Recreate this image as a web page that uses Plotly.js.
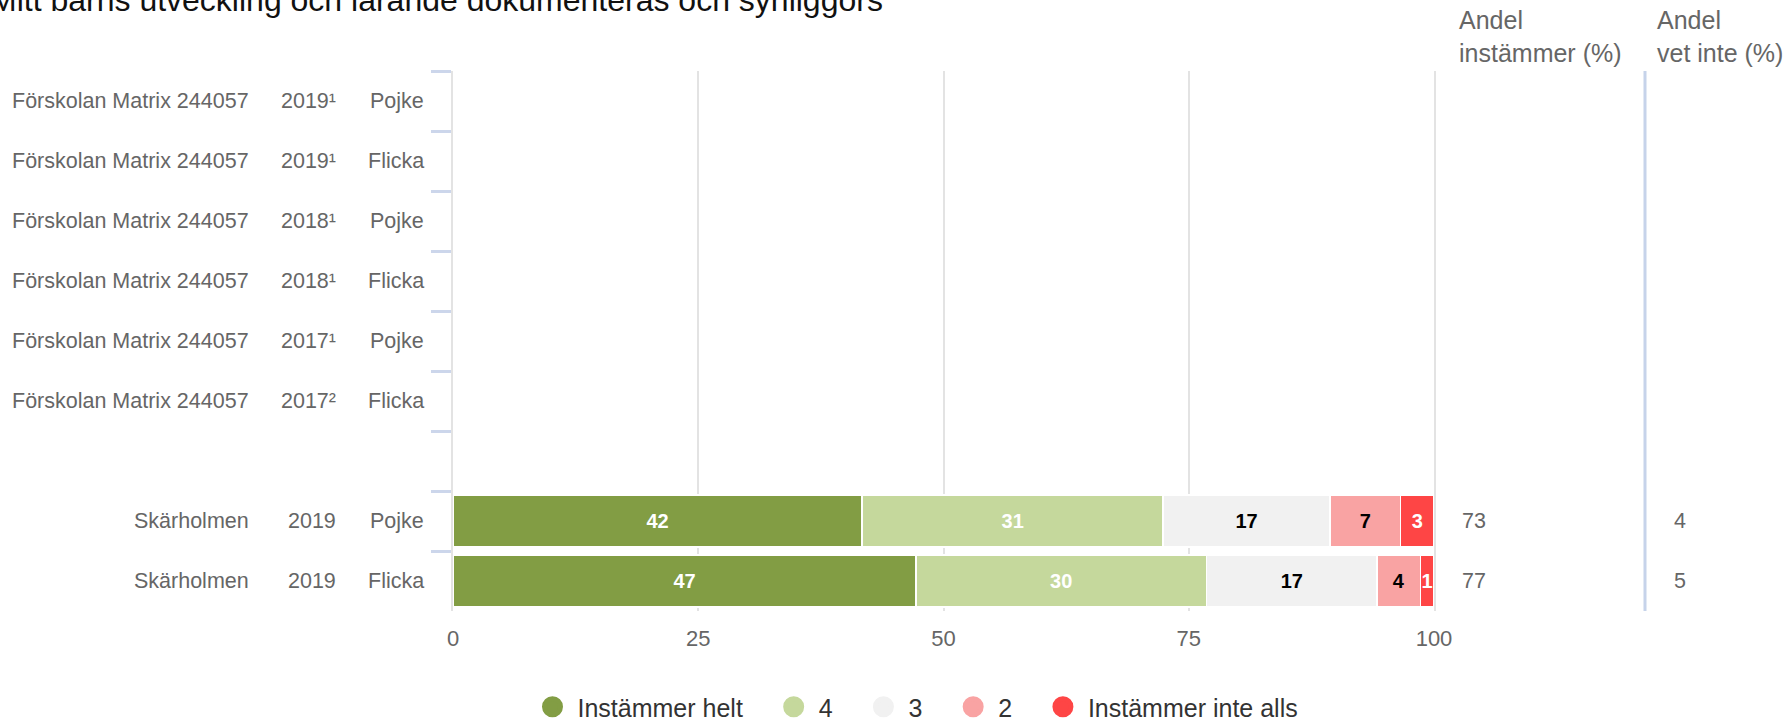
<!DOCTYPE html>
<html>
<head>
<meta charset="utf-8">
<script src="https://cdn.plot.ly/plotly-3.0.1.min.js"></script>
<style>
  html, body { margin: 0; padding: 0; background: #fff; }
  #myDiv { width: 1785px; height: 720px; }
</style>
</head>
<body>
<div id="myDiv"></div>
<script>
// rows, top to bottom (row 7 is an empty spacer)
var schools = ['Förskolan Matrix 244057', 'Förskolan Matrix 244057', 'Förskolan Matrix 244057',
               'Förskolan Matrix 244057', 'Förskolan Matrix 244057', 'Förskolan Matrix 244057',
               '', 'Skärholmen', 'Skärholmen'];
var years = ['2019¹', '2019¹', '2018¹', '2018¹', '2017¹', '2017²', '', '2019', '2019'];
var genders = ['Pojke', 'Flicka', 'Pojke', 'Flicka', 'Pojke', 'Flicka', '', 'Pojke', 'Flicka'];

// answer shares (%); null = no data
var helt     = [null, null, null, null, null, null, null, 41.7, 47.2];
var fyra     = [null, null, null, null, null, null, null, 30.7, 29.6];
var tre      = [null, null, null, null, null, null, null, 17.0, 17.4];
var tva      = [null, null, null, null, null, null, null, 7.2, 4.4];
var inteAlls = [null, null, null, null, null, null, null, 3.4, 1.4];

var andelInstammer = [null, null, null, null, null, null, null, 73, 77];
var andelVetInte   = [null, null, null, null, null, null, null, 4, 5];

var seriesNames = ['Instämmer helt', '4', '3', '2', 'Instämmer inte alls'];
var seriesColors = ['#829d44', '#c5d89c', '#f1f1f1', '#f9a3a3', '#fe4545'];
var labelColors = ['#ffffff', '#ffffff', '#000000', '#000000', '#ffffff'];
var xTicks = [0, 25, 50, 75, 100];

var FONT = 'Liberation Sans, Arial, sans-serif';

// unique category keys for the y axis
var cats = [];
for (var i = 0; i < schools.length; i++) {
  cats.push(i + '|' + schools[i] + '|' + years[i] + '|' + genders[i]);
}

// plot area in pixels
var L = 453, R = 1434, T = 71, B = 611;
function px(x) { return (x - L) / (R - L); }
function py(y) { return (B - y) / (B - T); }

var data = [];
var series = [helt, fyra, tre, tva, inteAlls];
for (var s = 0; s < series.length; s++) {
  data.push({
    type: 'bar',
    orientation: 'h',
    x: series[s],
    y: cats,
    name: seriesNames[s],
    showlegend: false,
    width: 0.87,
    marker: { color: seriesColors[s], line: { color: '#ffffff', width: 1.5 } },
    texttemplate: '%{x:.0f}',
    textposition: 'inside',
    insidetextanchor: 'middle',
    constraintext: 'none',
    textangle: 0,
    textfont: { family: FONT, size: 20, color: labelColors[s], weight: 'bold' },
    hoverinfo: 'x+name'
  });
}
// legend entries as circles (a little trailing space between entries)
var pad = '\u00a0\u00a0\u00a0';
for (var s = 0; s < seriesNames.length; s++) {
  data.push({
    type: 'scatter',
    mode: 'markers',
    x: [null],
    y: [null],
    name: seriesNames[s] + pad,
    marker: { color: seriesColors[s], size: 24, symbol: 'circle',
              line: { color: seriesColors[s], width: 5 } },
    hoverinfo: 'skip'
  });
}

var annotations = [];
// title (cut at the top left like the original)
annotations.push({
  xref: 'paper', yref: 'paper', x: px(-12), y: py(0),
  xanchor: 'left', yanchor: 'middle', showarrow: false,
  text: 'Mitt barns utveckling och lärande dokumenteras och synliggörs',
  font: { family: FONT, size: 32, color: '#111' }
});
// row labels
for (var i = 0; i < cats.length; i++) {
  var f = { family: FONT, size: 21.5, color: '#666' };
  annotations.push({ xref: 'paper', yref: 'y', x: px(251), y: cats[i], xanchor: 'right',
    showarrow: false, text: schools[i], font: f });
  annotations.push({ xref: 'paper', yref: 'y', x: px(338), y: cats[i], xanchor: 'right',
    showarrow: false, text: years[i], font: f });
  annotations.push({ xref: 'paper', yref: 'y', x: px(426), y: cats[i], xanchor: 'right',
    showarrow: false, text: genders[i], font: f });
  if (andelInstammer[i] != null) {
    annotations.push({ xref: 'paper', yref: 'y', x: px(1460), y: cats[i], xanchor: 'left',
      showarrow: false, text: String(andelInstammer[i]), font: f });
  }
  if (andelVetInte[i] != null) {
    annotations.push({ xref: 'paper', yref: 'y', x: px(1672), y: cats[i], xanchor: 'left',
      showarrow: false, text: String(andelVetInte[i]), font: f });
  }
}
// column headers
annotations.push({ xref: 'paper', yref: 'paper', x: px(1457), y: py(4), xanchor: 'left', yanchor: 'top',
  align: 'left', showarrow: false, text: 'Andel<br>instämmer (%)', font: { family: FONT, size: 25, color: '#666' } });
annotations.push({ xref: 'paper', yref: 'paper', x: px(1655), y: py(4), xanchor: 'left', yanchor: 'top',
  align: 'left', showarrow: false, text: 'Andel<br>vet inte (%)', font: { family: FONT, size: 25, color: '#666' } });

var layout = {
  width: 1785,
  height: 720,
  margin: { l: L, r: 1785 - R, t: T, b: 720 - B, autoexpand: false },
  paper_bgcolor: '#fff',
  plot_bgcolor: '#fff',
  barmode: 'stack',
  bargap: 0.13,
  font: { family: FONT, color: '#666' },
  showlegend: true,
  legend: {
    orientation: 'h', traceorder: 'normal',
    x: px(926), y: py(707), xanchor: 'center', yanchor: 'middle',
    font: { family: FONT, size: 25, color: '#333' }, itemwidth: 40
  },
  xaxis: {
    range: [0, 100],
    tickmode: 'array',
    tickvals: xTicks,
    ticktext: xTicks.map(String),
    showgrid: true,
    gridcolor: '#e3e3e3',
    gridwidth: 2,
    zeroline: false,
    showline: false,
    ticks: '',
    tickfont: { family: FONT, size: 22, color: '#666' },
    ticklabelstandoff: 12,
    fixedrange: true
  },
  yaxis: {
    type: 'category',
    categoryorder: 'array',
    categoryarray: cats,
    autorange: 'reversed',
    showticklabels: false,
    showgrid: false,
    zeroline: false,
    showline: true,
    mirror: true,
    linecolor: '#e3e3e3',
    linewidth: 2,
    ticks: 'outside',
    tickson: 'boundaries',
    ticklen: 20,
    tickwidth: 3,
    tickcolor: '#ccd6eb',
    fixedrange: true
  },
  shapes: [
    { type: 'line', xref: 'paper', yref: 'paper', x0: px(1645), x1: px(1645), y0: 0, y1: 1,
      line: { color: '#c6d3ea', width: 3 } }
  ],
  annotations: annotations
};

Plotly.newPlot('myDiv', data, layout, { displayModeBar: false, staticPlot: true });
</script>
</body>
</html>
